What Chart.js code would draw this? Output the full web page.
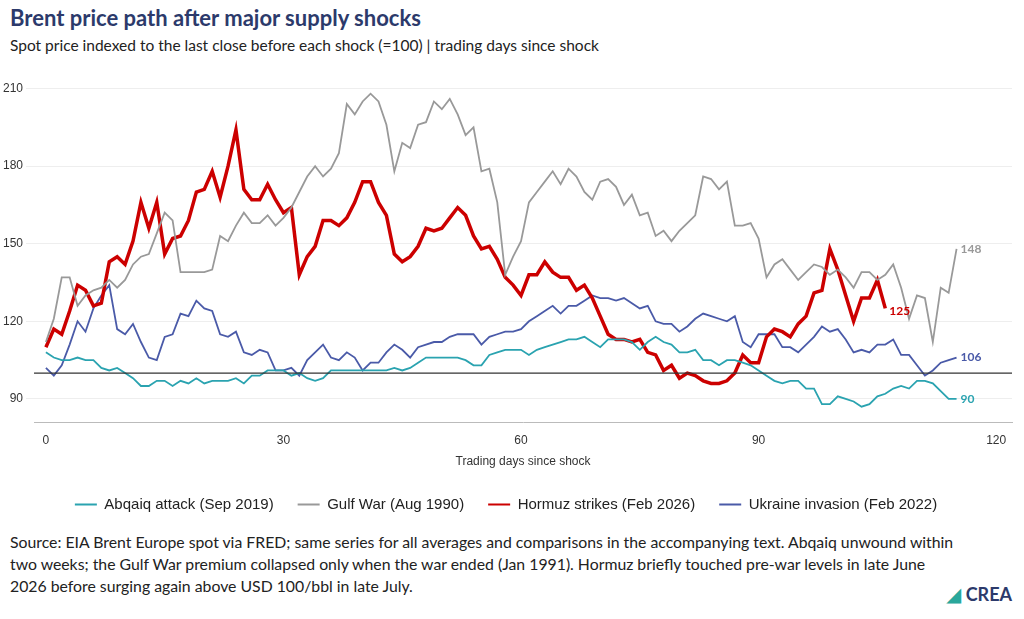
<!DOCTYPE html>
<html><head><meta charset="utf-8">
<script src="https://cdn.jsdelivr.net/npm/chart.js@4"></script>
<style>
body{margin:0;width:1024px;height:619px;background:#fff;font-family:Lato,"Noto Sans",sans-serif;overflow:hidden;position:relative}
h1{position:absolute;left:10px;top:4px;margin:0;font-size:22px;color:#2c3a6b;font-weight:700}
.sub{position:absolute;left:10px;top:36px;font-size:15.5px;color:#222}
#wrap{position:absolute;left:0;top:68px;width:1024px;height:454px}
.src{position:absolute;left:10px;top:531px;font-size:15.8px;line-height:22px;color:#222;width:945px}
.logo{position:absolute;right:12px;bottom:14px;font-size:18px;font-weight:700;color:#2c3a6b}
.logo span{color:#2aa79b}
</style></head><body>
<h1>Brent price path after major supply shocks</h1>
<div class="sub">Spot price indexed to the last close before each shock (=100) | trading days since shock</div>
<div id="wrap"><canvas id="c"></canvas></div>
<div class="src">Source: EIA Brent Europe spot via FRED; same series for all averages and comparisons in the accompanying text. Abqaiq unwound within two weeks; the Gulf War premium collapsed only when the war ended (Jan 1991). Hormuz briefly touched pre-war levels in late June 2026 before surging again above USD 100/bbl in late July.</div>
<div class="logo"><span>◢</span> CREA</div>
<script>
const yTicks=[90,120,150,180,210];
const xTicks=[0,30,60,90,120];
const hormuz=[110,117,115,124,134,132,126,127,143,145,142,151,166,156,166,146,152,153,159,170,171,178,168,180,194,171,167,167,173,167,162,164,138,145,149,159,159,157,160,166,174,174,166,161,146,143,145,149,156,155,156,160,164,161,153,148,149,144,137,134,130,138,138,143,139,137,137,132,134,129,122,115,113,113,112,113,108,107,101,103,98,100,99,97,96,96,97,100,107,104,104,114,117,116,114,119,122,131,132,148,140,130,120,129,129,136,125];
const gulf=[112,121,137,137,126,130,132,133,136,133,136,142,145,146,154,162,159,139,139,139,139,140,153,151,157,162,158,158,161,157,160,164,170,176,180,176,179,185,204,200,205,208,205,196,178,189,187,196,197,205,202,206,200,192,195,178,179,166,138,145,151,166,170,174,178,173,179,176,170,167,174,175,172,165,169,161,162,153,155,151,155,158,161,176,175,171,174,157,157,158,152,137,142,144,140,136,139,142,141,138,140,137,133,139,139,136,138,142,133,121,130,129,112,133,131,148];
const abqaiq=[108,106,105,105,106,105,105,102,101,102,100,98,95,95,97,97,95,97,96,98,96,97,97,97,98,96,99,99,101,101,101,99,100,98,97,98,101,101,101,101,101,101,101,101,102,101,102,104,106,106,106,106,106,105,103,103,107,108,109,109,109,107,109,110,111,112,113,113,114,112,110,113,113,113,112,109,112,114,112,111,108,108,109,105,105,103,105,105,104,103,101,99,97,96,97,97,94,94,88,88,91,90,89,87,88,91,92,94,95,94,97,97,96,93,90,90];
const ukraine=[102,99,103,111,120,116,125,130,134,117,115,119,112,106,105,114,115,123,122,128,125,124,115,114,116,108,107,109,108,101,101,102,99,105,108,111,106,105,108,106,101,104,104,108,111,109,106,110,111,112,112,114,115,115,115,111,114,115,116,116,117,120,122,124,126,123,126,126,128,130,129,129,128,129,127,125,126,120,119,119,116,118,121,123,122,121,120,122,112,110,115,115,115,110,110,108,111,114,118,116,117,113,108,109,108,111,111,113,107,107,103,99,101,104,105,106];
const pts=a=>a.map((v,i)=>({x:i,y:v}));
const series=[
 {label:'Abqaiq attack (Sep 2019)',data:pts(abqaiq),borderColor:'#2aa3b0',borderWidth:1.8},
 {label:'Gulf War (Aug 1990)',data:pts(gulf),borderColor:'#999999',borderWidth:1.8},
 {label:'Hormuz strikes (Feb 2026)',data:pts(hormuz),borderColor:'#cc0000',borderWidth:3.5},
 {label:'Ukraine invasion (Feb 2022)',data:pts(ukraine),borderColor:'#4a5aa8',borderWidth:1.8}
];
series.forEach(s=>{s.pointRadius=0;s.tension=0;s.backgroundColor=s.borderColor;});
const endLabels={id:'endLabels',afterDatasetsDraw(ch){const c=ch.ctx;c.save();c.font='bold 12px Lato';c.textBaseline='middle';
 ch.data.datasets.forEach((d,i)=>{const m=ch.getDatasetMeta(i);const p=m.data[m.data.length-1];c.fillStyle=d.borderColor;c.fillText(String(d.data[d.data.length-1].y),p.x+4,p.y+(i==2?3:0));});
 const y=ch.scales.y.getPixelForValue(100);c.strokeStyle='#333';c.lineWidth=1.2;c.beginPath();c.moveTo(ch.chartArea.left,y);c.lineTo(ch.chartArea.right,y);c.stroke();c.restore();}};
new Chart(document.getElementById('c'),{type:'line',data:{datasets:series},plugins:[endLabels],
options:{responsive:true,maintainAspectRatio:false,animation:false,layout:{padding:{left:0,right:12,top:0}},
 scales:{x:{type:'linear',min:-1.5,max:122,afterBuildTicks:a=>{a.ticks=xTicks.map(v=>({value:v}))},grid:{display:false},border:{color:'#bbb'},ticks:{color:'#333',font:{size:12}},
   title:{display:true,text:'Trading days since shock',color:'#333',font:{size:12}}},
  y:{min:81,max:214,afterBuildTicks:a=>{a.ticks=yTicks.map(v=>({value:v}))},grid:{color:'#eeeeee'},border:{display:false},ticks:{color:'#333',font:{size:12}}}},
 plugins:{legend:{position:'bottom',labels:{boxWidth:22,boxHeight:0,color:'#222',font:{size:15},padding:24,generateLabels:ch=>ch.data.datasets.map((d,i)=>({text:d.label,strokeStyle:d.borderColor,fillStyle:d.borderColor,lineWidth:2,datasetIndex:i,fontColor:'#222'}))}},tooltip:{enabled:false}}}});
</script></body></html>
